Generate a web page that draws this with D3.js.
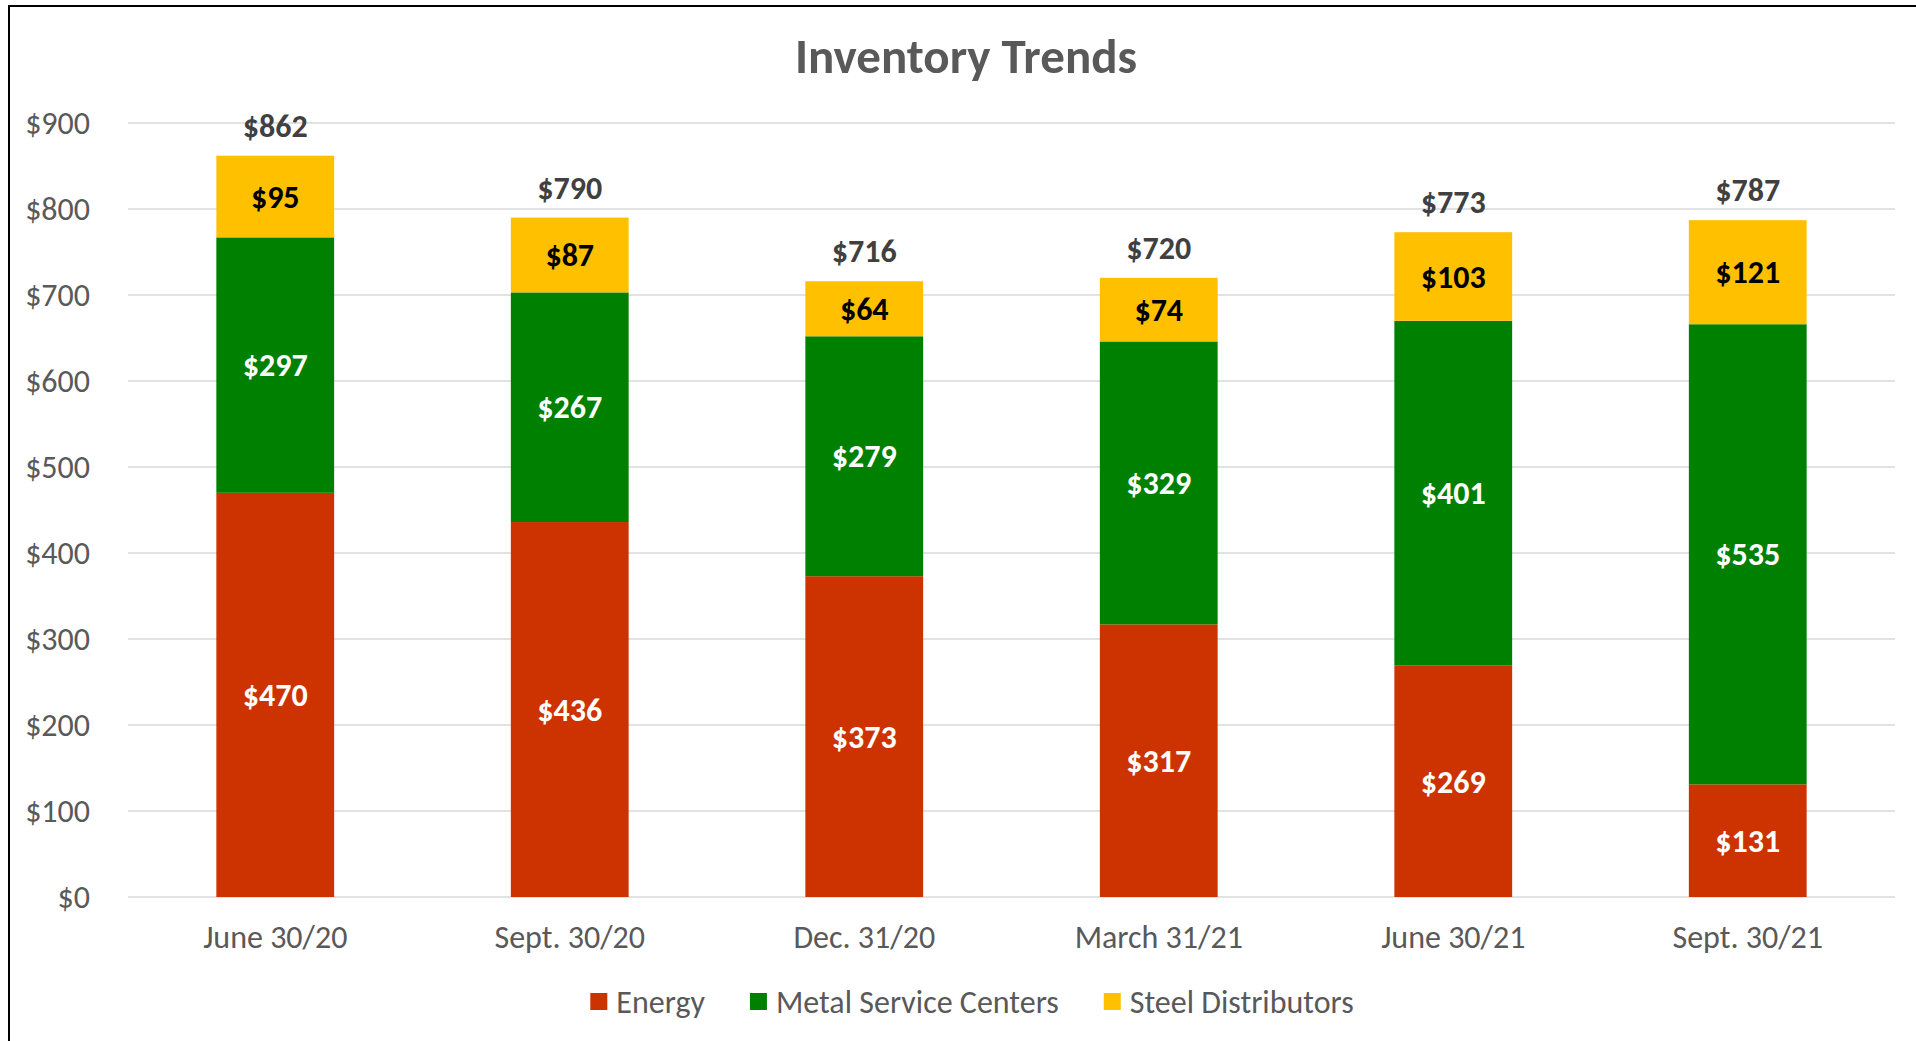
<!DOCTYPE html>
<html>
<head>
<meta charset="utf-8">
<script src="https://cdn.jsdelivr.net/npm/d3@7"></script>
<style>
  body { margin: 0; background: #fff; }
  svg text { font-family: Carlito, Calibri, Lato, sans-serif; }
</style>
</head>
<body>
<svg id="chart" width="1916" height="1041"></svg>
<script>
var categories = ['June 30/20', 'Sept. 30/20', 'Dec. 31/20', 'March 31/21', 'June 30/21', 'Sept. 30/21'];
var seriesNames = ['Energy', 'Metal Service Centers', 'Steel Distributors'];
var energy = [470, 436, 373, 317, 269, 131];
var metal = [297, 267, 279, 329, 401, 535];
var steel = [95, 87, 64, 74, 103, 121];
var yTicks = [0, 100, 200, 300, 400, 500, 600, 700, 800, 900];
var colors = ['#CC3300', '#008000', '#FFC000'];
var labelColors = ['#ffffff', '#ffffff', '#000000'];

var svg = d3.select('#chart');
var width = 1916, height = 1041;

// frame (only left and top edges visible in the picture)
svg.append('path')
  .attr('d', 'M9,' + height + ' V6 H' + width)
  .attr('fill', 'none')
  .attr('stroke', '#000')
  .attr('stroke-width', 2);

var x = d3.scaleBand()
  .domain(categories)
  .range([128, 1895])
  .paddingInner(0.6)
  .paddingOuter(0.3);

var y = d3.scaleLinear()
  .domain([0, 900])
  .range([897, 123]);

// gridlines
svg.append('g')
  .selectAll('line')
  .data(yTicks)
  .enter()
  .append('line')
  .attr('x1', 128)
  .attr('x2', 1895)
  .attr('y1', d => y(d))
  .attr('y2', d => y(d))
  .attr('stroke', '#d9d9d9')
  .attr('stroke-width', 1.5);

// y tick labels
svg.append('g')
  .selectAll('text')
  .data(yTicks)
  .enter()
  .append('text')
  .attr('x', 90)
  .attr('y', d => y(d))
  .attr('dy', '0.35em')
  .attr('text-anchor', 'end')
  .attr('font-size', 32)
  .attr('fill', '#595959')
  .text(d => '$' + d);

// x labels
svg.append('g')
  .selectAll('text')
  .data(categories)
  .enter()
  .append('text')
  .attr('x', d => x(d) + x.bandwidth() / 2)
  .attr('y', 948)
  .attr('text-anchor', 'middle')
  .attr('font-size', 32)
  .attr('fill', '#595959')
  .text(d => d);

// stacked data
var table = categories.map((c, i) => ({
  cat: c,
  'Energy': energy[i],
  'Metal Service Centers': metal[i],
  'Steel Distributors': steel[i]
}));
var stacked = d3.stack().keys(seriesNames)(table);

var layers = svg.append('g')
  .selectAll('g')
  .data(stacked)
  .enter()
  .append('g')
  .attr('fill', (d, i) => colors[i]);

layers.selectAll('rect')
  .data(d => d)
  .enter()
  .append('rect')
  .attr('x', d => x(d.data.cat))
  .attr('width', x.bandwidth())
  .attr('y', d => y(d[1]))
  .attr('height', d => y(d[0]) - y(d[1]));

// segment labels
stacked.forEach((layer, li) => {
  svg.append('g')
    .selectAll('text')
    .data(layer)
    .enter()
    .append('text')
    .attr('x', d => x(d.data.cat) + x.bandwidth() / 2)
    .attr('y', d => (y(d[0]) + y(d[1])) / 2)
    .attr('dy', '0.35em')
    .attr('text-anchor', 'middle')
    .attr('font-size', 32)
    .attr('font-weight', 'bold')
    .attr('fill', labelColors[li])
    .text(d => '$' + (d[1] - d[0]));
});

// totals above each bar
var topLayer = stacked[stacked.length - 1];
svg.append('g')
  .selectAll('text')
  .data(topLayer)
  .enter()
  .append('text')
  .attr('x', d => x(d.data.cat) + x.bandwidth() / 2)
  .attr('y', d => y(d[1]) - 19)
  .attr('text-anchor', 'middle')
  .attr('font-size', 32)
  .attr('font-weight', 'bold')
  .attr('fill', '#404040')
  .text(d => '$' + d[1]);

// title
svg.append('text')
  .attr('x', 966)
  .attr('y', 73)
  .attr('text-anchor', 'middle')
  .attr('font-size', 49)
  .attr('font-weight', 'bold')
  .attr('fill', '#595959')
  .text('Inventory Trends');

// legend
var legend = svg.append('g');
var items = legend.selectAll('g')
  .data(seriesNames)
  .enter()
  .append('g');
items.append('rect')
  .attr('width', 17)
  .attr('height', 17)
  .attr('y', 993)
  .attr('fill', (d, i) => colors[i]);
items.append('text')
  .attr('x', 26)
  .attr('y', 1013)
  .attr('font-size', 32)
  .attr('fill', '#595959')
  .text(d => d);

var pos = 0;
var widths = [];
items.each(function() {
  var w = 26 + d3.select(this).select('text').node().getComputedTextLength();
  widths.push(w);
});
var gap = 45;
var total = d3.sum(widths) + gap * (widths.length - 1);
var start = 972 - total / 2;
items.attr('transform', (d, i) => {
  var tx = start + pos;
  pos += widths[i] + gap;
  return `translate(${tx},0)`;
});
</script>
</body>
</html>
